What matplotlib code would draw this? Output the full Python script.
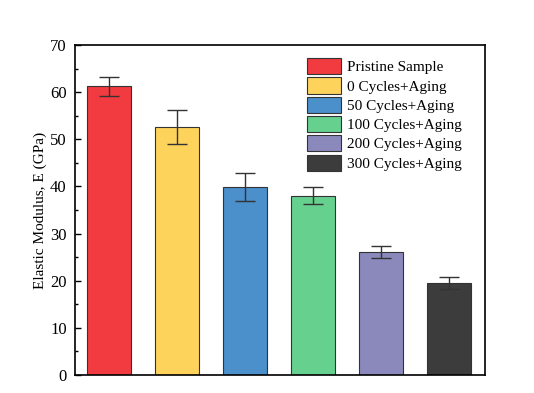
import matplotlib
matplotlib.use("Agg")
import matplotlib.pyplot as plt
from matplotlib.ticker import MultipleLocator
import numpy as np

labels = ["Pristine Sample", "0 Cycles+Aging", "50 Cycles+Aging",
          "100 Cycles+Aging", "200 Cycles+Aging", "300 Cycles+Aging"]
values = [61.2, 52.6, 39.9, 38.0, 26.1, 19.5]
errors = [2.1, 3.6, 3.0, 1.8, 1.3, 1.2]
colors = ["#F23B40", "#FDD35C", "#4B8FCB", "#66D08F", "#8B89BC", "#3C3C3C"]

plt.rcParams['font.family'] = ['Liberation Serif', 'DejaVu Serif']
fig = plt.figure(figsize=(5.34, 3.93), dpi=100)
ax = fig.add_axes([75/534, 1-375/393, 410/534, 330/393])

x = np.arange(len(values))
for i in range(len(values)):
    ax.bar(x[i], values[i], width=0.65, color=colors[i], edgecolor="#333333",
           linewidth=0.8, label=labels[i], zorder=2)
    ax.errorbar(x[i], values[i], yerr=errors[i], fmt='none', ecolor="#333333",
                elinewidth=1.0, capsize=7, capthick=1.0, zorder=3)

ax.set_xlim(-0.5, 5.53)
ax.set_ylim(0, 70)
ax.set_xticks([])
ax.yaxis.set_major_locator(MultipleLocator(10))
ax.yaxis.set_minor_locator(MultipleLocator(5))
ax.tick_params(axis='y', which='major', direction='in', length=4, width=1,
               labelsize=12, pad=6)
ax.tick_params(axis='y', which='minor', direction='in', length=2.5, width=1)
for s in ax.spines.values():
    s.set_linewidth(1.2)
ax.set_ylabel("Elastic Modulus, E (GPa)", fontsize=11, labelpad=2)

ax.legend(loc='upper left', frameon=False, fontsize=11, handlelength=2.2,
          handleheight=1.25, labelspacing=0.2, handletextpad=0.4,
          bbox_to_anchor=(0.566, 0.96), borderaxespad=0, borderpad=0)

fig.savefig("out.png", dpi=100)
